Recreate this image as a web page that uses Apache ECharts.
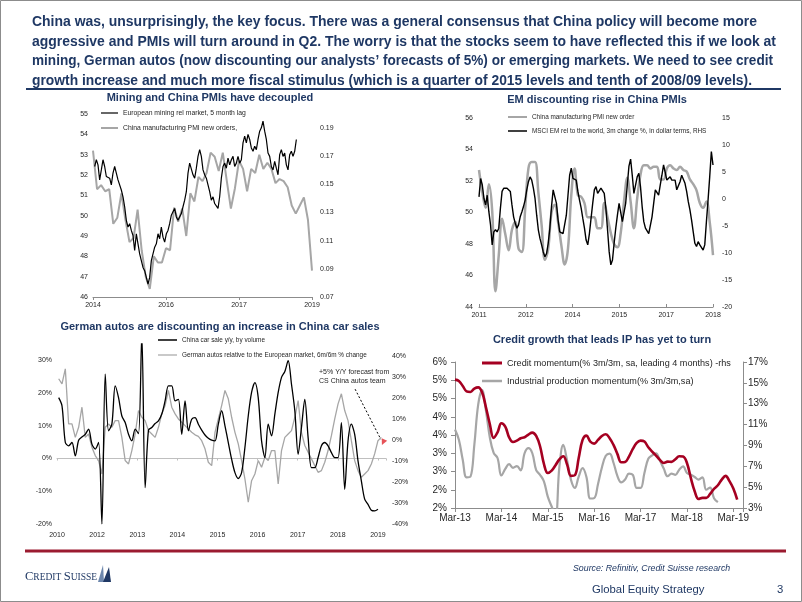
<!DOCTYPE html>
<html><head><meta charset="utf-8">
<script src="https://cdn.jsdelivr.net/npm/echarts@6/dist/echarts.min.js"></script>
<style>html,body{margin:0;padding:0;background:#fff}#c{width:802px;height:602px}</style>
</head><body><div id="c"></div>
<script>
// ---------------- DATA ----------------
// Chart 1: Mining and China PMIs have decoupled
const c1TickLabels = ['2014','2016','2017','2019'];
const c1Pmi = [53.2,51.3,51.5,51.2,51.3,49.6,49.9,51.1,49.8,48.7,48.9,50.3,48.3,47.0,46.4,48.0,47.7,47.7,48.4,48.3,50.4,49.7,50.35,49.0,51.1,50.7,51.9,51.7,52.1,53.1,52.9,52.2,53.1,51.7,50.35,51.35,52.7,52.3,51.2,52.3,52.1,53.0,52.3,52.6,52.3,51.6,51.8,51.7,51.4,50.5,50.1,50.5,50.9,49.8,47.3];
const c1MiningStart = 0.41, c1MiningStep = 0.411;
const c1Mining = [0.1627,0.1675,0.1639,0.1532,0.1603,0.1675,0.1627,0.1556,0.1568,0.1544,
0.1496,0.1580,0.1627,0.1580,0.1532,0.1520,0.1460,0.1412,0.1341,0.1245,
0.1197,0.1221,0.1173,0.1137,0.1030,0.1149,0.1078,0.1006,0.0958,0.0910,
0.0887,0.0839,0.0791,0.0839,0.0958,0.1006,0.1054,0.1078,0.1149,0.1114,
0.1197,0.1125,0.1090,0.1149,0.1173,0.1221,0.1281,0.1305,0.1329,0.1269,
0.1245,0.1233,0.1293,0.1341,0.1388,0.1448,0.1580,0.1651,0.1663,0.1568,
0.1544,0.1615,0.1699,0.1747,0.1699,0.1603,0.1568,0.1544,0.1496,0.1448,
0.1388,0.1412,0.1364,0.1353,0.1329,0.1412,0.1544,0.1627,0.1651,0.1615,
0.1687,0.1639,0.1675,0.1699,0.1627,0.1651,0.1699,0.1651,0.1675,0.1795,
0.1843,0.1795,0.1855,0.1819,0.1759,0.1735,0.1771,0.1747,0.1819,0.1878,
0.1902,0.1950,0.1878,0.1819,0.1723,0.1699,0.1627,0.1603,0.1663,0.1615,
0.1568,0.1711,0.1747,0.1699,0.1723,0.1639,0.1603,0.1711,0.1735,0.1699,
0.1735,0.1819];
const c1RightTicks = [0.07,0.09,0.11,0.13,0.15,0.17,0.19];

// Chart 2: EM discounting rise in China PMIs
const c2TickLabels = ['2011','2012','2014','2015','2017','2018'];
const c2PmiStep = 10, c2MsciStep = 5;
const c2Pmi = [52.7,51.3,50.3,51.8,50.1,45.0,47.3,49.6,48.6,47.6,
48.9,49.4,47.7,47.5,50.2,52.8,53.2,53.2,51.3,49.2,
47.0,47.7,50.0,50.5,49.4,47.9,46.7,47.7,51.1,52.8,
51.1,51.0,50.6,49.7,49.7,49.7,49.0,49.0,50.6,49.7,
48.7,48.0,47.8,48.7,50.7,52.2,50.7,49.0,50.9,52.4,
53.0,53.0,52.8,52.9,52.9,52.1,52.1,52.8,53.0,52.8,
52.7,52.9,52.7,52.6,52.1,51.8,51.4,50.6,50.3,50.7,
49.4,47.3];
const c2Msci = [0.4,3.8,2.6,0.1,-1.1,0.7,-2.4,-4.8,-8.5,-6.1,
-5.7,-6.1,-5.4,-1.7,1.4,2.0,2.3,2.0,2.0,1.4,
-1.1,-3.3,-4.5,-5.4,-4.8,-3.3,-2.4,-1.4,-0.2,1.7,
3.2,4.1,3.5,2.0,0.1,-3.0,-5.7,-7.3,-8.5,-9.8,
-10.7,-10.1,-8.2,-5.4,-1.4,1.7,1.7,-0.8,-3.9,-6.1,
-6.1,-6.4,-6.1,-3.0,0.7,4.4,5.7,3.8,3.8,3.5,
1.4,-0.2,-1.7,-3.6,-5.4,-7.6,-8.5,-6.4,-3.6,-0.8,
1.7,2.3,1.05,0.7,2.0,2.3,1.05,-1.7,-5.7,-9.8,
-12.2,-11.3,-8.2,-5.4,-3.0,-0.8,-1.1,-4.2,-4.2,-0.8,
2.6,6.1,7.4,4.4,1.05,1.4,4.1,4.75,2.3,-1.4,
-4.2,-5.4,-5.4,-6.4,-6.1,-3.3,-0.8,1.7,1.4,0.7,
2.6,4.4,6.3,6.0,3.5,3.2,4.1,3.5,3.8,3.5,
1.7,2.0,3.2,4.4,4.1,2.9,1.4,-0.5,-2.0,-3.9,
-6.1,-8.2,-8.8,-7.9,-8.5,-8.8,-9.45,-8.5,-4.2,-0.2,
4.1,8.8,6.3];

// Chart 3: German autos vs China car sales
const c3TickLabels = ['2010','2012','2013','2014','2015','2016','2017','2018','2019'];
const c3Start = 0.415, c3Step = 0.829;
const c3CarSales = [18.6,16.1,4.9,3.9,4.9,0.8,5.6,6.6,7.4,9.0,
4.4,2.9,4.9,-20.0,25.8,8.5,10.5,22.2,18.6,13.0,
11.0,7.4,5.4,9.0,7.6,38.0,-8.9,8.7,9.5,10.7,
11.5,13.6,17.6,22.2,22.2,17.6,18.1,7.4,17.6,8.5,
12.0,12.5,10.5,8.7,7.2,6.2,5.6,5.4,10.5,14.6,
10.0,4.9,-0.2,-4.3,-6.1,-4.3,3.4,13.0,20.2,23.2,
18.6,5.4,0.3,10.5,6.9,13.6,20.2,24.8,26.6,29.9,
22.7,14.6,1.3,9.5,18.1,6.4,-2.8,-2.8,0.3,3.9,
4.9,3.9,1.8,0.3,0.3,11.0,-9.4,5.4,10.5,7.4,
-0.7,-6.8,-12.4,-14.0,-15.8,-16.0,-15.5];
const c3German = [29.4,27.0,34.1,7.8,7.8,1.4,6.2,15.8,1.4,3.0,
-3.3,-7.3,-9.7,-16.1,6.2,7.8,6.2,9.4,9.4,1.4,
-9.7,-11.3,-4.9,3.0,14.2,11.0,9.4,4.6,3.0,1.4,
6.2,12.6,16.6,23.8,15.8,12.6,10.2,8.6,7.0,5.4,
3.8,2.6,1.9,-0.2,-4.1,-10.5,-12.1,3.8,10.2,16.6,
23.8,19.8,11.0,3.8,-1.7,-9.7,-18.5,-29.6,-19.3,-16.1,
-9.7,-12.9,-8.1,-9.7,-4.9,-4.9,-20.9,-4.9,1.4,3.0,
4.6,11.0,19.0,3.8,-2.5,-5.7,-8.9,-12.1,-15.3,-14.5,
-10.5,-4.9,2.2,10.2,17.4,22.2,14.2,9.4,-0.2,-9.7,
-14.5,-17.7,-16.1,-14.5,-11.3,-6.5,-0.2,1.4];
const c3ForecastX = [81.3];
const c3Forecast = [5];

// Chart 4: Credit growth vs IP
const c4TickLabels = ['Mar-13','Mar-14','Mar-15','Mar-16','Mar-17','Mar-18','Mar-19'];
const c4LeftLabels = ['2%','2%','3%','3%','4%','4%','5%','5%','6%'];
const c4RightTicks = [3,5,7,9,11,13,15,17];
const c4Credit = [15.31,15.18,14.70,14.19,14.13,14.45,14.57,14.10,12.66,11.06,
9.72,10.26,11.12,10.80,9.78,9.33,9.46,9.69,9.78,10.04,
10.23,9.91,8.92,7.23,6.36,6.59,7.10,7.67,7.96,7.16,
6.08,6.14,7.80,9.53,9.94,9.37,9.17,9.53,9.91,10.07,
9.69,9.05,8.19,7.39,7.42,7.93,8.66,9.24,9.46,9.37,
8.82,8.41,8.03,7.61,7.32,7.45,7.42,7.67,7.96,7.93,
7.32,5.88,4.61,3.87,3.97,3.97,4.35,4.83,5.18,5.72,
6.08,5.57,4.86,3.81];
const c4IP = [4.15,3.87,3.32,2.84,2.86,3.73,4.83,5.23,4.67,3.94,
3.51,3.37,2.89,3.07,3.20,3.10,3.15,3.03,3.50,3.64,
3.50,3.04,2.91,2.73,2.31,2.04,1.80,3.13,3.73,3.30,
2.77,2.55,2.86,3.09,2.85,2.26,2.27,2.66,3.11,3.43,
3.49,3.24,2.88,2.70,2.78,2.94,2.91,2.55,2.55,2.96,
3.35,3.44,3.50,3.30,3.08,2.87,2.94,2.91,3.05,3.14,
2.96,2.91,2.85,2.78,2.84,2.50,2.56,2.27,2.16];

const headerLines = [
 'China was, unsurprisingly, the key focus. There was a general consensus that China policy will become more',
 'aggressive and PMIs will turn around in Q2. The worry is that the stocks seem to have reflected this if we look at',
 'mining, German autos (now discounting our analysts\u2019 forecasts of 5%) or emerging markets. We need to see credit',
 'growth increase and much more fiscal stimulus (which is a quarter of 2015 levels and tenth of 2008/09 levels).'
];

// ---------------- STYLE / LAYOUT ----------------
const F = '"Liberation Sans", Arial, Helvetica, sans-serif';
const NAVY = '#1f3864';
const GRAY = '#a6a6a6';
const AX = '#8c8c8c';
const TXT = '#262626';
const RED = '#a50021';
const headerY = [22, 41.5, 61, 80.5];
const headerWidths = [725, 744, 741, 720];

function idxLabel(arr, step, offset){
  offset = offset || 0;
  return function(v){
    const k = (v - offset) / step, r = Math.round(k);
    return (Math.abs(k - r) < 1e-6 && arr[r] !== undefined) ? arr[r] : '';
  };
}
function lbl(size, margin, extra){
  return Object.assign({fontSize:size, color:TXT, fontFamily:F, margin:margin}, extra || {});
}
const noLine = {show:false}, noTick = {show:false}, noSplit = {show:false};

const meas = document.createElement('canvas').getContext('2d');
const HFONT = 'bold 14.5px "Liberation Sans"';
meas.font = HFONT;
const headerEls = headerLines.map(function(t, i){
  const sx = headerWidths[i] / meas.measureText(t).width;
  return {type:'text', x:32, y:headerY[i], scaleX:sx,
    style:{text:t, font:HFONT, fill:NAVY, verticalAlign:'middle', textVerticalAlign:'middle'}};
});

const chart = echarts.init(document.getElementById('c'), null, {renderer:'canvas'});

function legendItem(name, left, cy, w, h, size, lh){
  return {
    data:[{name:name, icon:'rect'}], left:left, top:cy - lh/2, orient:'horizontal',
    itemWidth:w, itemHeight:h, padding:0, itemGap:0, selectedMode:false,
    textStyle:{fontSize:size, lineHeight:lh, color:TXT, fontFamily:F}
  };
}
function titleText(t, x, y){
  return {type:'text', x:x, y:y, style:{text:t, font:'bold 11px ' + F, fill:NAVY,
    align:'center', textAlign:'center', verticalAlign:'middle', textVerticalAlign:'middle'}};
}

const option = {
  animation:false,
  textStyle:{fontFamily:F},
  grid:[
    {left:93, top:114, width:219, height:183},
    {left:479, top:118, width:234, height:189},
    {left:57, top:344, width:329, height:180},
    {left:455, top:362, width:288, height:146}
  ],
  xAxis:[
    {gridIndex:0, type:'value', min:0, max:54, interval:18,
     axisLine:{onZero:false, lineStyle:{color:AX}}, axisTick:{length:3, lineStyle:{color:AX}}, splitLine:noSplit,
     axisLabel:lbl(7, 4.5, {formatter:idxLabel(c1TickLabels, 18)})},
    {gridIndex:1, type:'value', min:0, max:710, interval:142,
     axisLine:{onZero:false, lineStyle:{color:AX}}, axisTick:{inside:true, length:3, lineStyle:{color:AX}}, splitLine:noSplit,
     axisLabel:lbl(7, 4.5, {formatter:idxLabel(c2TickLabels, 142)})},
    {gridIndex:2, type:'value', min:0, max:82, interval:10, position:'bottom',
     axisLine:{show:false, onZero:false}, axisTick:noTick, splitLine:noSplit,
     axisLabel:lbl(7, 7.5, {formatter:idxLabel(c3TickLabels, 10)})},
    {gridIndex:2, type:'value', min:0, max:82, interval:10, position:'bottom',
     axisLine:{show:true, onZero:true, lineStyle:{color:'#bfbfbf'}},
     axisTick:{show:true, length:2, lineStyle:{color:'#bfbfbf'}}, splitLine:noSplit,
     axisLabel:{show:false}},
    {gridIndex:3, type:'value', min:0, max:74.5, interval:12,
     axisLine:{onZero:false, lineStyle:{color:AX}}, axisTick:{length:4, lineStyle:{color:AX}}, splitLine:noSplit,
     axisLabel:lbl(10, 5, {formatter:idxLabel(c4TickLabels, 12)})}
  ],
  yAxis:[
    {gridIndex:0, type:'value', min:46, max:55, interval:1,
     axisLine:noLine, axisTick:noTick, splitLine:noSplit, axisLabel:lbl(7, 5)},
    {gridIndex:0, type:'value', position:'right', min:0.07, max:0.2,
     axisLine:noLine, axisTick:noTick, splitLine:noSplit,
     axisLabel:lbl(7, 8, {customValues:c1RightTicks, formatter:function(v){return v.toFixed(2);}})},
    {gridIndex:1, type:'value', min:44, max:56, interval:2,
     axisLine:noLine, axisTick:noTick, splitLine:noSplit, axisLabel:lbl(7, 6)},
    {gridIndex:1, type:'value', position:'right', min:-20, max:15, interval:5,
     axisLine:noLine, axisTick:noTick, splitLine:noSplit, axisLabel:lbl(7, 9)},
    {gridIndex:2, type:'value', min:-20, max:35, interval:10,
     axisLine:noLine, axisTick:noTick, splitLine:noSplit,
     axisLabel:lbl(7, 5, {showMaxLabel:false, formatter:function(v){return v + '%';}})},
    {gridIndex:2, type:'value', position:'right', min:-40, max:46, interval:10,
     axisLine:noLine, axisTick:noTick, splitLine:noSplit,
     axisLabel:lbl(7, 6, {showMaxLabel:false, formatter:function(v){return v + '%';}})},
    {gridIndex:3, type:'value', min:2, max:6, interval:0.5,
     axisLine:{show:true, lineStyle:{color:AX}}, axisTick:{show:true, length:4, lineStyle:{color:AX}}, splitLine:noSplit,
     axisLabel:lbl(10, 8, {formatter:idxLabel(c4LeftLabels, 0.5, 2)})},
    {gridIndex:3, type:'value', position:'right', min:3, max:17,
     axisLine:{show:true, lineStyle:{color:AX}},
     axisTick:{show:true, length:4, customValues:c4RightTicks, lineStyle:{color:AX}}, splitLine:noSplit,
     axisLabel:lbl(10, 5, {customValues:c4RightTicks, formatter:function(v){return v + '%';}})}
  ],
  legend:[
    legendItem('European mining rel market, 5 month lag', 101, 113, 17, 1.2, 6.8, 10),
    legendItem('China manufacturing PMI new orders,', 101, 128, 17, 2, 6.8, 10),
    legendItem('China manufacturing PMI new order', 508, 117, 19, 2, 6.4, 10),
    legendItem('MSCI EM rel to the world, 3m change %, in dollar terms, RHS', 508, 131, 19, 1.5, 6.4, 10),
    legendItem('China car sale y/y, by volume', 158, 340, 19, 1.5, 6.4, 10),
    legendItem('German autos relative to the European market, 6m/6m % change', 158, 355, 19, 1.2, 6.4, 10),
    legendItem('Credit momentum(% 3m/3m, sa, leading 4 months) -rhs', 482, 363, 20, 3, 9.1, 12),
    legendItem('Industrial production momentum(% 3m/3m,sa)', 482, 381, 20, 2.5, 9.1, 12)
  ],
  series:[
    {type:'line', name:'China manufacturing PMI new orders,', xAxisIndex:0, yAxisIndex:0,
     data:c1Pmi.map(function(v,i){return [i, v];}), symbol:'none', color:GRAY,
     lineStyle:{color:GRAY, width:2}},
    {type:'line', name:'European mining rel market, 5 month lag', xAxisIndex:0, yAxisIndex:1,
     data:c1Mining.map(function(v,i){return [c1MiningStart + i*c1MiningStep, v];}), symbol:'none', color:'#000',
     lineStyle:{color:'#000', width:1.2}},
    {type:'line', name:'China manufacturing PMI new order', xAxisIndex:1, yAxisIndex:2, smooth:0.4,
     data:c2Pmi.map(function(v,i){return [i*c2PmiStep, v];}), symbol:'none', color:GRAY,
     lineStyle:{color:GRAY, width:2.5}},
    {type:'line', name:'MSCI EM rel to the world, 3m change %, in dollar terms, RHS', xAxisIndex:1, yAxisIndex:3,
     data:c2Msci.map(function(v,i){return [i*c2MsciStep, v];}), symbol:'none', color:'#000',
     lineStyle:{color:'#000', width:1.4}},
    {type:'line', name:'German autos relative to the European market, 6m/6m % change', xAxisIndex:2, yAxisIndex:5,
     data:c3German.map(function(v,i){return [c3Start + i*c3Step, v];}), symbol:'none', color:GRAY,
     lineStyle:{color:GRAY, width:1.3}},
    {type:'line', name:'China car sale y/y, by volume', xAxisIndex:2, yAxisIndex:4, smooth:0.3,
     data:c3CarSales.map(function(v,i){return [c3Start + i*c3Step, v];}), symbol:'none', color:'#000',
     lineStyle:{color:'#000', width:1.3}},
    {type:'scatter', name:'forecast', xAxisIndex:2, yAxisIndex:4,
     data:c3Forecast.map(function(v,i){return [c3ForecastX[i], v];}),
     symbol:'triangle', symbolSize:6, symbolRotate:155, itemStyle:{color:'#e0282e'}, z:5,
     markLine:{silent:true, symbol:['none','none'], label:{show:false},
       lineStyle:{color:'#000', width:1, type:[2,2]},
       data:[[{coord:[74.3, 21.2]}, {coord:[80.7, 5.9]}]]}},
    {type:'line', name:'Industrial production momentum(% 3m/3m,sa)', xAxisIndex:4, yAxisIndex:6, smooth:0.4,
     data:c4IP.map(function(v,i){return [i, v];}), symbol:'none', color:GRAY,
     lineStyle:{color:GRAY, width:2.2}},
    {type:'line', name:'Credit momentum(% 3m/3m, sa, leading 4 months) -rhs', xAxisIndex:4, yAxisIndex:7, smooth:0.4,
     data:c4Credit.map(function(v,i){return [i, v];}), symbol:'none', color:RED,
     lineStyle:{color:RED, width:2.6}}
  ],
  graphic:{elements:[
    {type:'rect', shape:{x:0.5, y:0.5, width:801, height:601}, style:{fill:'none', stroke:'#8c8c8c', lineWidth:1}, silent:true}
  ].concat(headerEls).concat([
    {type:'line', shape:{x1:26, y1:89, x2:781, y2:89}, style:{stroke:NAVY, lineWidth:2}},
    titleText('Mining and China PMIs have decoupled', 210, 98),
    titleText('EM discounting rise in China PMIs', 597, 100),
    titleText('German autos are discounting an increase in China car sales', 220, 327),
    titleText('Credit growth that leads IP has yet to turn', 602, 340),
    {type:'text', x:319, y:372, style:{text:'+5% Y/Y forecast from', font:'7px ' + F, fill:TXT, verticalAlign:'middle', textVerticalAlign:'middle'}},
    {type:'text', x:319, y:381, style:{text:'CS China autos team', font:'7px ' + F, fill:TXT, verticalAlign:'middle', textVerticalAlign:'middle'}},
    {type:'line', shape:{x1:25, y1:551, x2:786, y2:551}, style:{stroke:'#9b1b30', lineWidth:3}},
    {type:'text', x:25, y:577, style:{text:'{b|C}{s|REDIT }{b|S}{s|UISSE}', verticalAlign:'middle', textVerticalAlign:'middle',
       rich:{b:{fontSize:12.5, fontFamily:'"Liberation Serif", serif', fill:NAVY, color:NAVY}, s:{fontSize:9.5, fontFamily:'"Liberation Serif", serif', fill:NAVY, color:NAVY}}}},
    {type:'polygon', shape:{points:[[98,582],[103,565],[104,582]]}, style:{fill:'#6d87ad'}},
    {type:'polygon', shape:{points:[[103,582],[109,567],[111,582]]}, style:{fill:NAVY}},
    {type:'text', x:573, y:569, style:{text:'Source: Refinitiv, Credit Suisse research', font:'italic 8.8px ' + F, fill:NAVY, verticalAlign:'middle', textVerticalAlign:'middle'}},
    {type:'text', x:592, y:590, style:{text:'Global Equity Strategy', font:'11.3px ' + F, fill:NAVY, verticalAlign:'middle', textVerticalAlign:'middle'}},
    {type:'text', x:777, y:590, style:{text:'3', font:'11.3px ' + F, fill:NAVY, verticalAlign:'middle', textVerticalAlign:'middle'}}
  ])}
};
chart.setOption(option);
</script></body></html>
